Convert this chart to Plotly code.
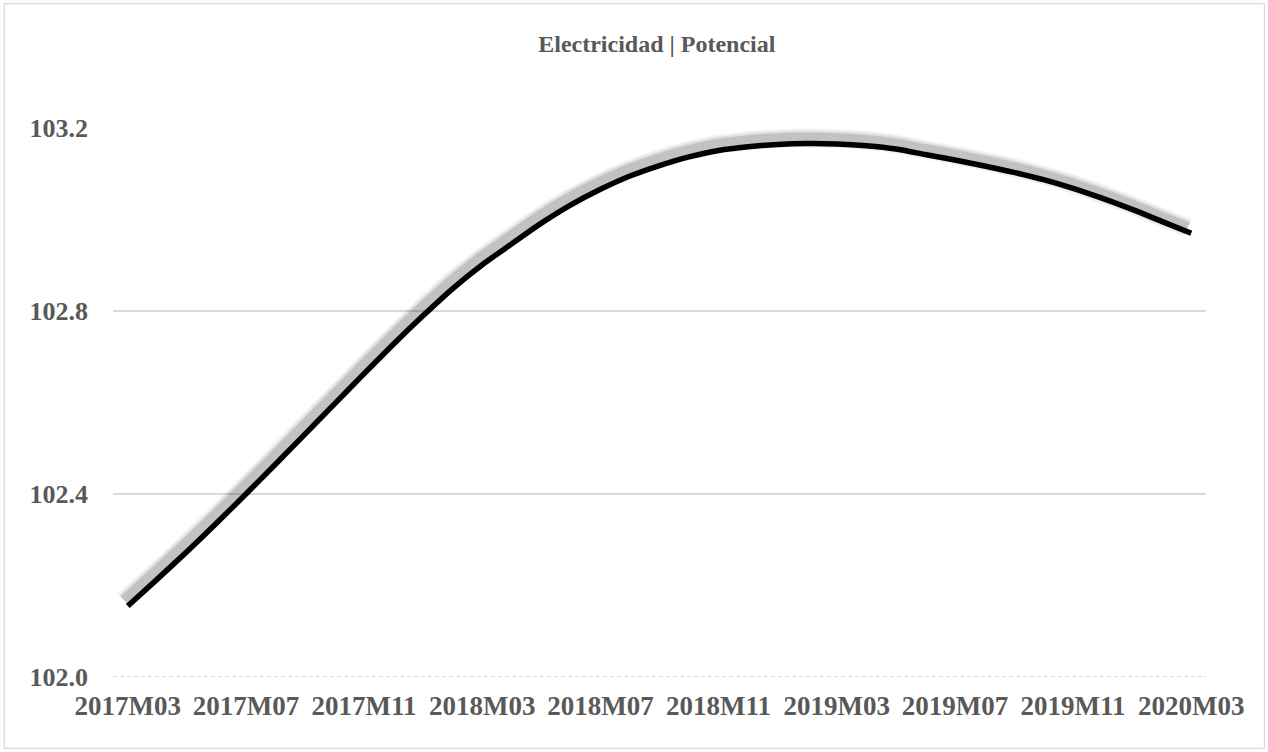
import plotly.graph_objects as go

# Monthly categories 2017M03 .. 2020M03
categories = []
yy, mm = 2017, 3
for _ in range(37):
    categories.append(f"{yy}M{mm:02d}")
    mm += 1
    if mm > 12:
        mm = 1
        yy += 1

potencial = [
    102.155, 102.214, 102.274, 102.336, 102.400, 102.465, 102.531, 102.597,
    102.663, 102.728, 102.790, 102.849, 102.901, 102.947, 102.992, 103.032,
    103.066, 103.095, 103.118, 103.137, 103.151, 103.159, 103.164, 103.166,
    103.165, 103.161, 103.154, 103.142, 103.130, 103.117, 103.103, 103.087,
    103.068, 103.046, 103.022, 102.996, 102.970,
]

tick_labels = categories[::4]
y_ticks = [102.0, 102.4, 102.8, 103.2]

TXT = "#595959"
GRID = "#d9d9d9"
FONT = "Liberation Serif"

fig = go.Figure()

# soft shadow (drawn on hidden, slightly shifted base axes)
for w, a in [(19, 0.05), (15, 0.08), (11, 0.13)]:
    fig.add_trace(go.Scatter(
        x=categories, y=potencial, mode="lines", xaxis="x", yaxis="y",
        line=dict(color=f"rgba(0,0,0,{a})", width=w, shape="spline", smoothing=0.8),
        hoverinfo="skip", showlegend=False,
    ))

# main line
fig.add_trace(go.Scatter(
    x=categories, y=potencial, mode="lines", xaxis="x2", yaxis="y2",
    line=dict(color="#000000", width=5.5, shape="spline", smoothing=0.8),
    name="Potencial", showlegend=False,
))

dx = 3.5 / 29.53
dy = -5.5 / 457.0

fig.update_layout(
    width=1268, height=752,
    paper_bgcolor="white", plot_bgcolor="white",
    margin=dict(l=113, r=62, t=128, b=75),
    title=dict(
        text="Electricidad | Potencial",
        x=0.518, xanchor="center", y=1 - 44 / 752, yanchor="middle",
        font=dict(family=FONT, size=24, color=TXT, weight="bold"),
    ),
    xaxis=dict(
        type="category", categoryorder="array", categoryarray=categories,
        range=[-0.5 + dx, len(categories) - 0.5 + dx],
        visible=False, showgrid=False, zeroline=False,
    ),
    yaxis=dict(
        range=[y_ticks[0] + dy, y_ticks[-1] + dy],
        visible=False, showgrid=False, zeroline=False,
    ),
    xaxis2=dict(
        type="category", categoryorder="array", categoryarray=categories,
        overlaying="x", anchor="y2",
        range=[-0.5, len(categories) - 0.5],
        tickmode="array", tickvals=tick_labels, ticktext=tick_labels,
        tickangle=0, showgrid=False, zeroline=False, showline=False, ticks="",
        ticklabelstandoff=10,
        tickfont=dict(family=FONT, size=27, color=TXT, weight="bold"),
    ),
    yaxis2=dict(
        overlaying="y", anchor="x2",
        range=[y_ticks[0], y_ticks[-1]],
        tickmode="array", tickvals=y_ticks,
        ticktext=[f"{v:.1f}" for v in y_ticks],
        showgrid=True, gridcolor=GRID, gridwidth=1.5,
        zeroline=False, showline=False, ticks="",
        ticklabelstandoff=24,
        tickfont=dict(family=FONT, size=26, color=TXT, weight="bold"),
    ),
    shapes=[
        # mask the solid grid at the axis base, then draw it dashed
        dict(type="line", xref="paper", yref="y2", x0=0, x1=1,
             y0=y_ticks[0], y1=y_ticks[0], layer="below",
             line=dict(color="white", width=3)),
        dict(type="line", xref="paper", yref="y2", x0=0, x1=1,
             y0=y_ticks[0], y1=y_ticks[0], layer="below",
             line=dict(color="#cccccc", width=1.5, dash="4px,3px")),
        # chart-area border
        dict(type="rect", xref="paper", yref="paper",
             x0=-0.0995, x1=1.0535, y0=-0.130, y1=1.2267,
             line=dict(color=GRID, width=1.2), fillcolor="rgba(0,0,0,0)",
             layer="below"),
    ],
)

fig.write_html(
    "out.html",
    config={"displayModeBar": False},
    post_script="document.body.style.margin='0';document.body.style.overflow='hidden';",
)
